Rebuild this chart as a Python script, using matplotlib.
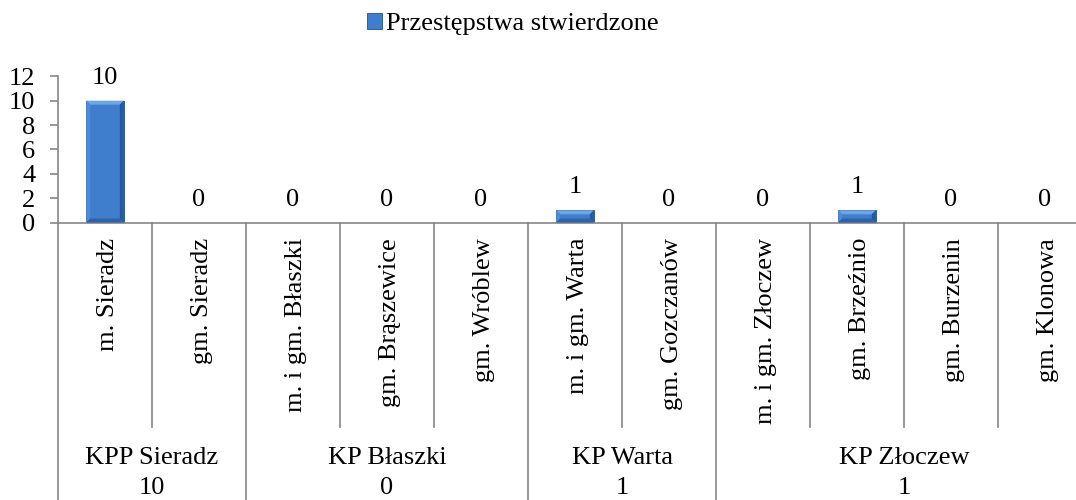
import matplotlib
matplotlib.use("Agg")
import matplotlib.pyplot as plt
from matplotlib.patches import Polygon, Patch
from matplotlib.transforms import blended_transform_factory, offset_copy

# ---- data ----
categories = ["m. Sieradz", "gm. Sieradz", "m. i gm. Błaszki", "gm. Brąszewice",
              "gm. Wróblew", "m. i gm. Warta", "gm. Gozczanów", "m. i gm. Złoczew",
              "gm. Brzeźnio", "gm. Burzenin", "gm. Klonowa"]
values = [10, 0, 0, 0, 0, 1, 0, 0, 1, 0, 0]
group_names = ["KPP Sieradz", "KP Błaszki", "KP Warta", "KP Złoczew"]
group_totals = [10, 0, 1, 1]
group_sizes = [2, 3, 2, 4]
series_name = "Przestępstwa stwierdzone"
yticks = [0, 2, 4, 6, 8, 10, 12]

plt.rcParams['font.family'] = ['Liberation Serif', 'DejaVu Serif']
FS = 19
W, H = 1076, 500
fig = plt.figure(figsize=(W / 100, H / 100), dpi=100)

# axes geometry (pixels)
ax_left_px, ax_right_px = 58, 1092
y0_px, y12_px = 222.5, 76.3
ax = fig.add_axes([ax_left_px / W, 1 - y0_px / H,
                   (ax_right_px - ax_left_px) / W, (y0_px - y12_px) / H])

n = len(categories)
xs = list(range(n))
ax.set_xlim(-0.5, n - 0.5)
ax.set_ylim(0, 12)

grey = '#868686'
for s in ['top', 'right']:
    ax.spines[s].set_visible(False)
ax.spines['left'].set_color(grey)
ax.spines['bottom'].set_color(grey)
ax.spines['left'].set_linewidth(1.2)
ax.spines['bottom'].set_linewidth(1.2)
ax.set_yticks(yticks)
ax.set_yticklabels([str(t) for t in yticks], fontsize=FS)
ax.tick_params(axis='y', direction='out', length=5.8, width=1.2, color=grey, pad=10.5)
ax.set_xticks([])

# bars
bw = 0.4
face = '#3f7ecd'
bars = ax.bar(xs, values, width=bw, color=face, edgecolor='#22508c', linewidth=0.6, zorder=2)

# bevel effect
px_per_x = (ax_right_px - ax_left_px) / n
px_per_y = (y0_px - y12_px) / 12
b = 4.0
dx, dy = b / px_per_x, b / px_per_y
for rect, v in zip(bars, values):
    if v <= 0:
        continue
    x0 = rect.get_x(); x1 = x0 + rect.get_width()
    y0 = 0; y1 = v
    polys = [
        ([(x0, y1), (x1, y1), (x1 - dx, y1 - dy), (x0 + dx, y1 - dy)], '#6fa5e4'),
        ([(x0, y0), (x0, y1), (x0 + dx, y1 - dy), (x0 + dx, y0 + dy)], '#4d8bd8'),
        ([(x1, y0), (x1, y1), (x1 - dx, y1 - dy), (x1 - dx, y0 + dy)], '#27599e'),
        ([(x0, y0), (x1, y0), (x1 - dx, y0 + dy), (x0 + dx, y0 + dy)], '#2e63aa'),
    ]
    for pts, c in polys:
        ax.add_patch(Polygon(pts, closed=True, facecolor=c, edgecolor='none', zorder=3))

# value labels
for x, v in zip(xs, values):
    ax.annotate(str(v), (x, v), xytext=(0, 12.2), textcoords='offset points',
                ha='center', va='baseline', fontsize=FS)

# category separators and labels
trans = blended_transform_factory(ax.transData, fig.transFigure)
group_bounds = [0]
for s in group_sizes:
    group_bounds.append(group_bounds[-1] + s)
y_axis_fig = 1 - y0_px / H
for k in range(n + 1):
    xb = k - 0.5
    ybot = 0.0 if k in group_bounds else 1 - 427 / H
    ax.plot([xb, xb], [y_axis_fig, ybot], transform=trans, color=grey,
            lw=1.2, clip_on=False, zorder=1)

lab_trans = offset_copy(trans, fig=fig, x=3, y=0, units='dots')
for x, lab in zip(xs, categories):
    ax.text(x, 1 - 238 / H, lab, transform=lab_trans, rotation=90, ha='center',
            va='top', fontsize=FS)

for name, tot, a, bnd in zip(group_names, group_totals, group_bounds[:-1], group_bounds[1:]):
    cx = (a + bnd) / 2 - 0.5
    ax.text(cx, 1 - 464 / H, name, transform=trans, ha='center', va='baseline', fontsize=FS)
    ax.text(cx, 1 - 493.5 / H, str(tot), transform=trans, ha='center', va='baseline', fontsize=FS)

# legend
handle = Patch(facecolor=face, edgecolor='#22508c', linewidth=0.6)
fig.legend([handle], [series_name], loc='center', bbox_to_anchor=(513 / W, 1 - 24 / H),
           frameon=False, fontsize=FS, handlelength=0.55, handleheight=0.55,
           handletextpad=0.15, borderaxespad=0)

fig.savefig('out.png', dpi=100)
